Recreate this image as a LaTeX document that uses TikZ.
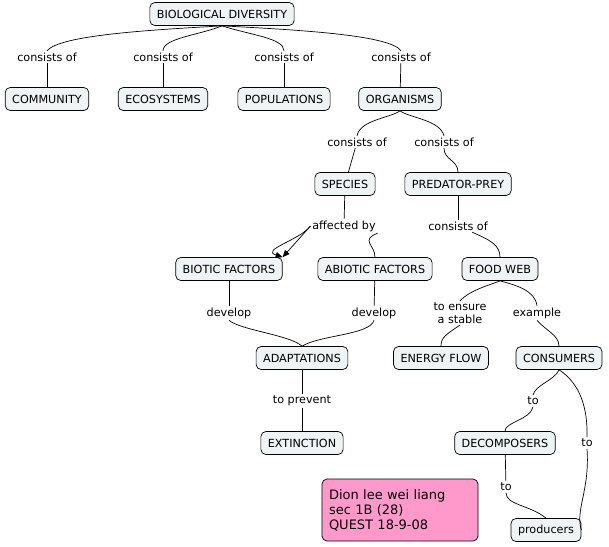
\documentclass[tikz,border=0pt]{standalone}
\usepackage{fontspec}
\setmainfont{DejaVu Sans}
\usetikzlibrary{arrows.meta}
\definecolor{cfill}{HTML}{EEF3F5}
\definecolor{pinkf}{HTML}{FF99CC}
\begin{document}
\begin{tikzpicture}[x=1pt,y=-1pt,
  c/.style={draw,rounded corners=5pt,fill=cfill,font=\fontsize{11.2}{13}\selectfont,minimum height=23pt,inner xsep=7pt},
  l/.style={fill=white,font=\fontsize{11.2}{12.5}\selectfont,inner sep=1.5pt,align=center},
  every path/.style={line width=0.7pt}]
\useasboundingbox (0,0) rectangle (609,546);
\node[c] (bd) at (222,14) {BIOLOGICAL DIVERSITY};
\node[c] (com) at (47,99) {COMMUNITY};
\node[c] (eco) at (163,99) {ECOSYSTEMS};
\node[c] (pop) at (284,99) {POPULATIONS};
\node[c] (org) at (400,99) {ORGANISMS};
\node[c] (spe) at (345,184) {SPECIES};
\node[c] (pp) at (458,184) {PREDATOR-PREY};
\node[c] (bio) at (229,269) {BIOTIC FACTORS};
\node[c] (abio) at (375,269) {ABIOTIC FACTORS};
\node[c] (fw) at (500,269) {FOOD WEB};
\node[c] (ada) at (302,358) {ADAPTATIONS};
\node[c] (ef) at (441,358) {ENERGY FLOW};
\node[c] (con) at (559,358) {CONSUMERS};
\node[c] (ext) at (302,443) {EXTINCTION};
\node[c] (dec) at (505,443) {DECOMPOSERS};
\node[c] (pro) at (546,530) {producers};
\node[draw,rounded corners=5pt,fill=pinkf,font=\fontsize{13}{15}\selectfont,align=left,text width=142pt,minimum height=62pt,inner xsep=7pt] (dion) at (400,510) {Dion lee wei liang\\sec 1B (28)\\QUEST 18-9-08};
% linking phrases
\node[l] (l1) at (47,57) {consists of};
\node[l] (l2) at (163,57) {consists of};
\node[l] (l3) at (284,57) {consists of};
\node[l] (l4) at (401,57) {consists of};
\node[l] (l5) at (357,142) {consists of};
\node[l] (l6) at (444,142) {consists of};
\node[l] (l7) at (344,226) {affected by};
\node[l] (l8) at (458,226) {consists of};
\node[l] (l9) at (229,313) {develop};
\node[l] (l10) at (374,313) {develop};
\node[l] (l11) at (460,313) {to ensure\\a stable};
\node[l] (l12) at (537,313) {example};
\node[l] (l13) at (302,401) {to prevent};
\node[l] (l14) at (533,401) {to};
\node[l] (l15) at (587,443) {to};
\node[l] (l16) at (506,487) {to};
% connectors
\draw (bd.south) .. controls (150,30) and (60,35) .. (l1.north);
\draw (bd.south) .. controls (200,35) and (163,38) .. (l2.north);
\draw (bd.south) .. controls (250,35) and (284,38) .. (l3.north);
\draw (bd.south) .. controls (300,30) and (390,35) .. (l4.north);
\draw (l1) -- (com); \draw (l2) -- (eco); \draw (l3) -- (pop); \draw (l4) -- (org);
\draw (org.south) .. controls (390,118) and (360,120) .. (l5.north);
\draw (org.south) .. controls (410,118) and (440,120) .. (l6.north);
\draw (l5) -- (spe); \draw (l6) .. controls (444,160) and (458,160) .. (pp);
\draw (spe) -- (l7);
\draw[-{Triangle[length=7pt,width=6pt]}] (l7.west) -- (bio.north east);
\draw[-{Triangle[length=7pt,width=6pt]}] (l7.west) .. controls (300,240) and (260,250) .. (bio.north east);
\draw (l7.south east) .. controls (360,240) and (375,245) .. (abio.north);
\draw (pp) -- (l8); \draw (l8) .. controls (490,240) and (500,245) .. (fw.north);
\draw (bio) -- (l9); \draw (abio) -- (l10);
\draw (l9.south) .. controls (240,330) and (290,335) .. (ada.north);
\draw (l10.south) .. controls (370,335) and (320,335) .. (ada.north);
\draw (fw.south) .. controls (490,285) and (470,290) .. (l11.north);
\draw (l11.south) .. controls (445,335) and (441,338) .. (ef.north);
\draw (fw.south) .. controls (515,285) and (535,290) .. (l12.north);
\draw (l12.south) .. controls (545,330) and (559,335) .. (con.north);
\draw (ada) -- (l13); \draw (l13) -- (ext);
\draw (con.south) .. controls (555,380) and (535,385) .. (l14.north);
\draw (l14.south) .. controls (530,420) and (505,422) .. (dec.north);
\draw (con.south) .. controls (575,380) and (588,400) .. (l15.north);
\draw (l15.south) .. controls (590,490) and (575,510) .. (pro.east);
\draw (dec) -- (l16); \draw (l16.south) .. controls (506,505) and (530,505) .. (pro.north);
\end{tikzpicture}
\end{document}
